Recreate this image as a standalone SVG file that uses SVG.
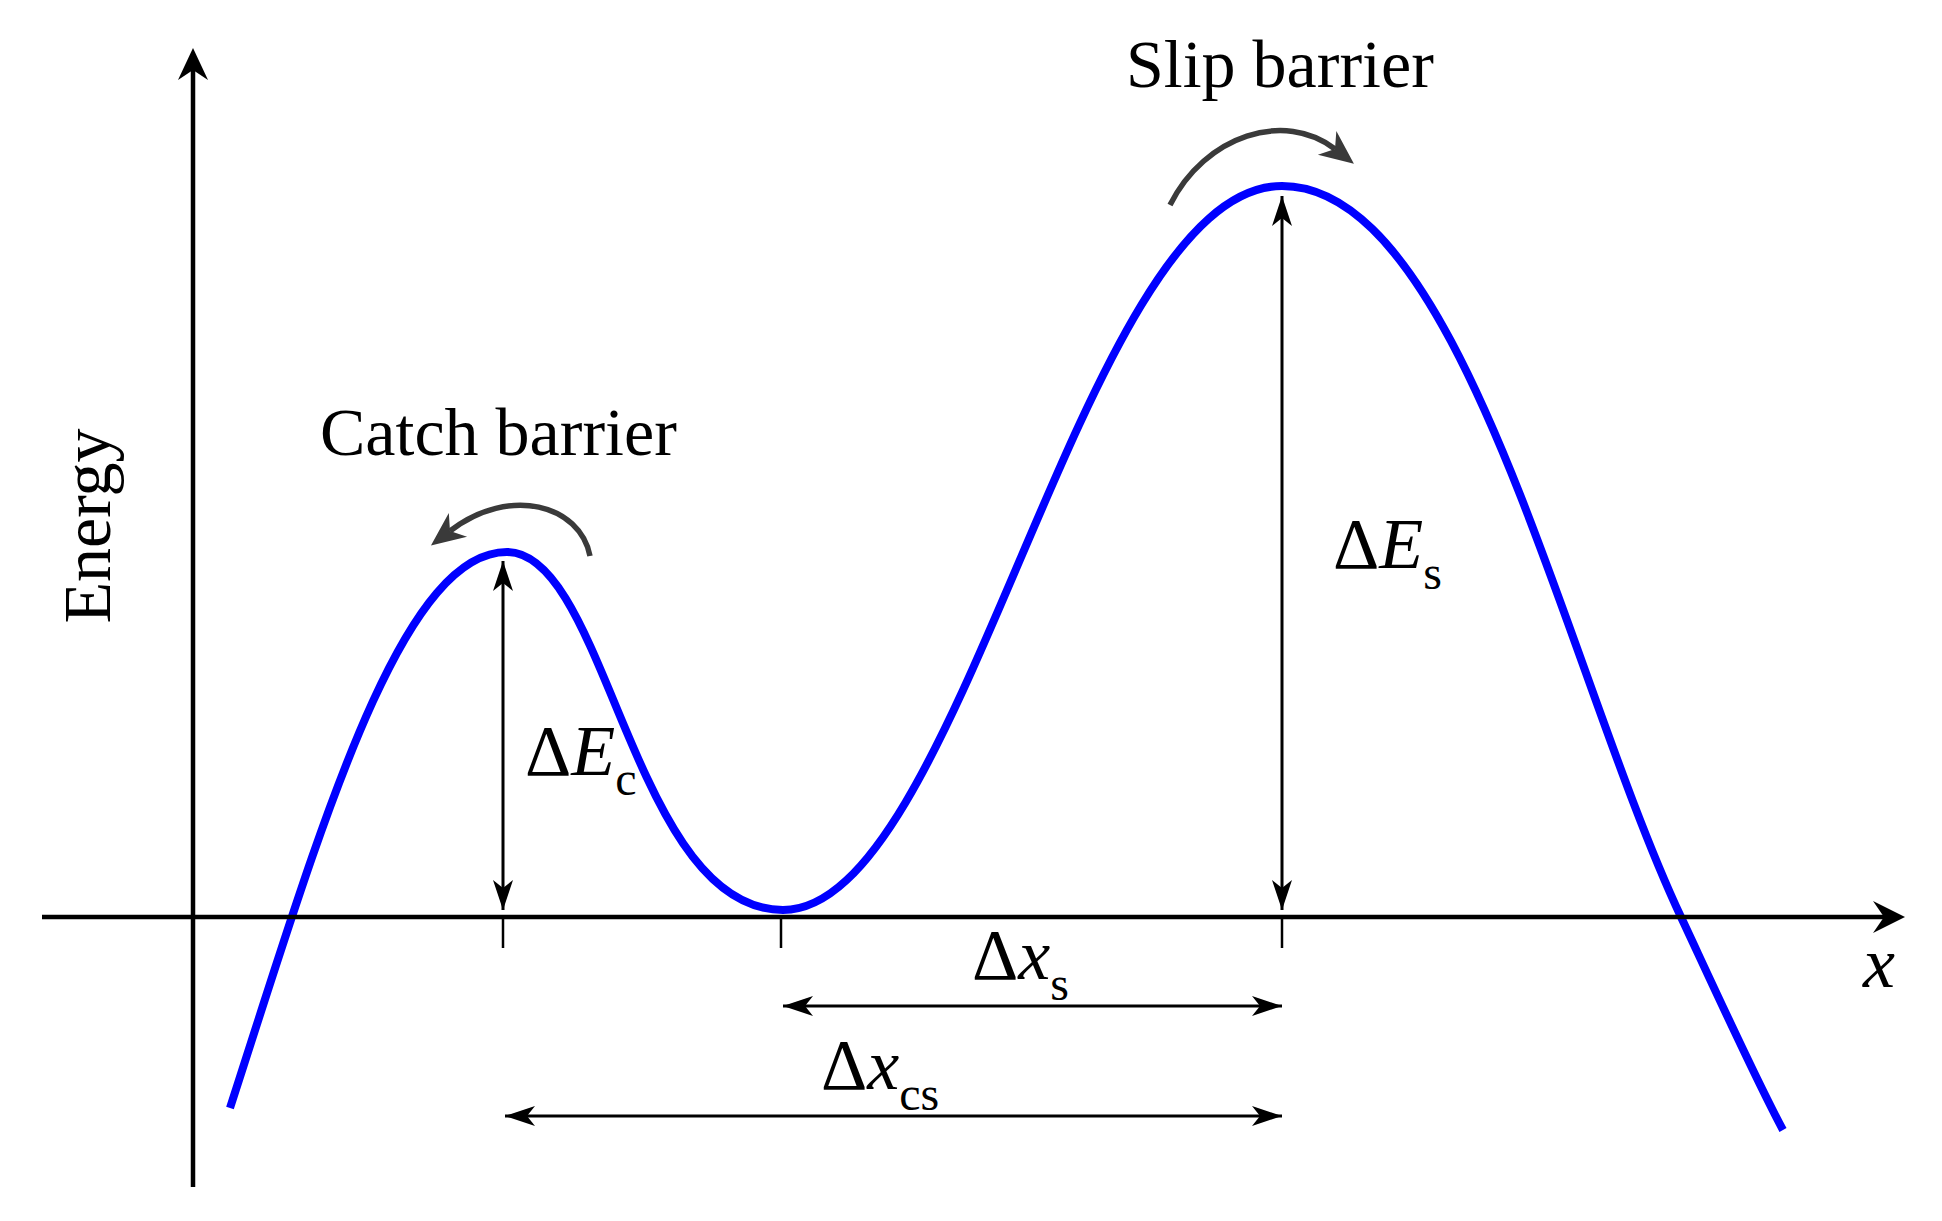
<svg xmlns="http://www.w3.org/2000/svg" width="1942" height="1221" viewBox="0 0 1942 1221">
<style>
.t{font-family:"Liberation Serif","Times New Roman",serif;fill:#000}
.lbl{font-size:68px}
.sym{font-size:72px}
.sub{font-size:48px}
.it{font-style:italic}
.dim{stroke:#000;stroke-width:3;fill:none}
.bend{stroke:#3a3a3a;stroke-width:5.5;fill:none}
.axis{stroke:#000;stroke-width:4.5;fill:none}
.tick{stroke:#000;stroke-width:2.5}
</style>
<defs>
<marker id="ah" viewBox="-32 -12 34 24" refX="0" refY="0" markerWidth="34" markerHeight="24" orient="auto-start-reverse" markerUnits="userSpaceOnUse">
<path d="M0,0 L-30,-10 L-22,0 L-30,10 Z" fill="#000"/>
</marker>
<marker id="ch" viewBox="-12 -16 40 32" refX="0" refY="0" markerWidth="40" markerHeight="32" orient="auto" markerUnits="userSpaceOnUse">
<path d="M24,0 L-10,-15 L0,0 L-10,15 Z" fill="#3a3a3a"/>
</marker>
</defs>
<rect width="1942" height="1221" fill="#fff"/>
<g id="curve">
<path d="M230,1108 C320,830 400,552 507,552 C607,552 633,910 783,910 C963,910 1082,186 1282,186 C1462,186 1566,672 1681,917 C1704,966 1755,1078 1783,1130" fill="none" stroke="#0000ff" stroke-width="8"/>
</g>
<g id="axes">
<line class="axis" x1="193" y1="1187" x2="193" y2="70"/>
<polygon points="193,48 178,80 193,70 208,80" fill="#000"/>
<line class="axis" x1="42" y1="917" x2="1886" y2="917"/>
<polygon points="1905,917 1873,901 1884,917 1873,933" fill="#000"/>
<line class="tick" x1="503" y1="917" x2="503" y2="948"/>
<line class="tick" x1="781" y1="917" x2="781" y2="948"/>
<line class="tick" x1="1282" y1="917" x2="1282" y2="948"/>
</g>
<g id="connectors">
<line class="dim" x1="503" y1="561" x2="503" y2="910" marker-start="url(#ah)" marker-end="url(#ah)"/>
<line class="dim" x1="1282" y1="196" x2="1282" y2="910" marker-start="url(#ah)" marker-end="url(#ah)"/>
<line class="dim" x1="783" y1="1006" x2="1282" y2="1006" marker-start="url(#ah)" marker-end="url(#ah)"/>
<line class="dim" x1="505" y1="1116" x2="1282" y2="1116" marker-start="url(#ah)" marker-end="url(#ah)"/>
<path class="bend" d="M590,556 C580,505 510,485 450,531" marker-end="url(#ch)"/>
<path class="bend" d="M1170,205 C1205,135 1285,110 1335,149" marker-end="url(#ch)"/>
</g>
<g id="label-energy"><text class="t lbl" transform="translate(110,526) rotate(-90)" text-anchor="middle">Energy</text></g>
<g id="label-catch"><text class="t lbl" x="320" y="455">Catch barrier</text></g>
<g id="label-slip"><text class="t lbl" x="1126" y="87">Slip barrier</text></g>
<g id="label-dEc"><text class="t sym" x="525" y="775">Δ<tspan class="it">E</tspan><tspan class="sub" dy="20">c</tspan></text></g>
<g id="label-dEs"><text class="t sym" x="1333" y="568">Δ<tspan class="it">E</tspan><tspan class="sub" dy="21">s</tspan></text></g>
<g id="label-dxs"><text class="t sym" x="972" y="979">Δ<tspan class="it">x</tspan><tspan class="sub" dy="21">s</tspan></text></g>
<g id="label-dxcs"><text class="t sym" x="821" y="1089">Δ<tspan class="it">x</tspan><tspan class="sub" dy="21">cs</tspan></text></g>
<g id="label-x"><text class="t sym it" x="1863" y="987">x</text></g>
</svg>
